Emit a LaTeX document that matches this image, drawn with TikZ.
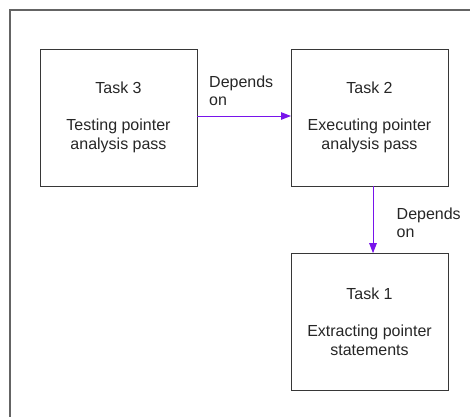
\documentclass[tikz,border=0pt]{standalone}
\usepackage{fontspec}
\setmainfont{Liberation Sans}
\usetikzlibrary{arrows.meta}
\definecolor{framegray}{RGB}{100,100,100}
\definecolor{boxline}{RGB}{55,55,55}
\definecolor{deppurple}{RGB}{120,20,235}
\tikzset{
  taskbox/.style={draw=boxline, line width=1pt, minimum width=157pt,
    minimum height=137pt, inner sep=0pt, outer sep=0pt, align=center,
    font=\fontsize{16}{18.5}\selectfont, text=black!85},
  deplabel/.style={anchor=north west, inner sep=0pt, align=left,
    font=\fontsize{16}{18}\selectfont, text=black!85},
  dep/.style={draw=deppurple, line width=1pt,
    -{Triangle[length=10pt,width=7.5pt]}}
}
\begin{document}
\begin{tikzpicture}[x=1pt,y=-1pt]
  \useasboundingbox (0,0) rectangle (470,416);
  % outer frame, running past the right and bottom edges
  \begin{scope}
    \clip (0,0) rectangle (470,416);
    \draw[framegray, line width=1.5pt] (10,430) -- (10,10) -- (480,10);
  \end{scope}

  \node[taskbox] (t3) at (118.5,117.5) {Task 3\\[18.5pt]Testing pointer\\analysis pass};
  \node[taskbox] (t2) at (369.5,117.5) {Task 2\\[18.5pt]Executing pointer\\analysis pass};
  \node[taskbox] (t1) at (369.5,321.7) {Task 1\\[18.5pt]Extracting pointer\\statements};

  \draw[dep] ([yshift=1.5pt]t3.east) -- ([yshift=1.5pt]t2.west);
  \draw[dep] ([xshift=3.5pt]t2.south) -- ([xshift=3.5pt]t1.north);

  \node[deplabel] (l32) at (209,75.3) {Depends\\on};
  \node[deplabel] (l21) at (396.5,207.5) {Depends\\on};
\end{tikzpicture}
\end{document}
